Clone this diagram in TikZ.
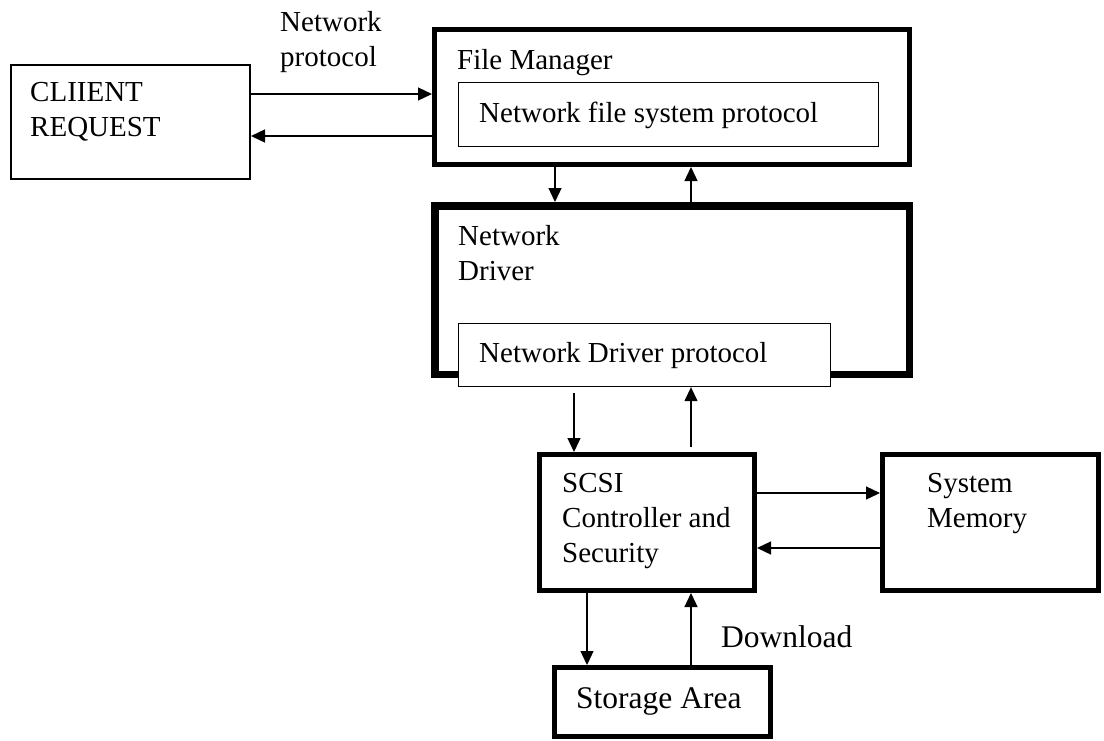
\documentclass[tikz,border=0pt]{standalone}
\usepackage{fontspec}
\setmainfont{Liberation Serif}
\usetikzlibrary{arrows.meta}
\begin{document}
\begin{tikzpicture}[x=1pt,y=-1pt,
  box/.style={draw, rectangle, inner sep=0pt, fill=white},
  thinbox/.style={box, line width=2pt},
  innerbox/.style={box, line width=1.3pt},
  heavybox/.style={box, line width=5pt},
  heaviestbox/.style={box, line width=7.5pt},
  % multi-line labels are placed by the baseline of their last line
  lbl/.style={anchor=base west, inner sep=0pt, align=left,
    font=\fontsize{29}{35}\selectfont},
  biglbl/.style={lbl, font=\fontsize{31.5}{35}\selectfont},
  link/.style={line width=1.3pt, -{Triangle[length=14pt,width=13pt]}},
]
\useasboundingbox (0,0) rectangle (1104,740);

% boxes
\node[thinbox, minimum width=239pt, minimum height=114pt] (client) at (130.5,122) {};
\node[heavybox, minimum width=475pt, minimum height=135pt] (fm) at (672,97) {};
\node[innerbox, minimum width=420pt, minimum height=64pt] (nfs) at (668.5,114.5) {};
\node[heaviestbox, minimum width=474.5pt, minimum height=168.5pt] (nd) at (672,290) {};
\node[innerbox, minimum width=372pt, minimum height=63pt] (ndp) at (644.5,355) {};
\node[heavybox, minimum width=215pt, minimum height=136pt] (scsi) at (647,522.5) {};
\node[heavybox, minimum width=216pt, minimum height=136pt] (mem) at (990.5,522.5) {};
\node[heavybox, minimum width=216pt, minimum height=69pt] (store) at (662.5,702) {};

% labels
\node[lbl] (tnp) at (280,66.7) {Network\\protocol};
\node[lbl] (tclient) at (30,136.7) {CLIIENT\\REQUEST};
\node[lbl] (tfm) at (457,69) {File Manager};
\node[lbl] (tnfs) at (479,122) {Network file system protocol};
\node[lbl] (tnd) at (458,280) {Network\\Driver};
\node[lbl] (tndp) at (479,362) {Network Driver protocol};
\node[lbl] (tscsi) at (562,562) {SCSI\\Controller and\\Security};
\node[lbl] (tmem) at (927,527) {System\\Memory};
\node[biglbl] (tstore) at (576,708) {Storage Area};
\node[biglbl] (tdl) at (721,647) {Download};

% connector positions
\coordinate (ya) at (0,94);
\coordinate (yb) at (0,136);
\coordinate (xa) at (555,0);
\coordinate (xb) at (691,0);
\coordinate (sa) at (574,393);
\coordinate (sb) at (691,447);
\coordinate (yc) at (0,493);
\coordinate (yd) at (0,548);
\coordinate (xc) at (587,0);

% connectors
\draw[link] (client.east |- ya) -- (fm.west |- ya);
\draw[link] (fm.west |- yb) -- (client.east |- yb);
\draw[link] (xa |- fm.south) -- (xa |- nd.north);
\draw[link] (xb |- nd.north) -- (xb |- fm.south);
\draw[link] (sa) -- (sa |- scsi.north);
\draw[link] (sb) -- (sb |- ndp.south);
\draw[link] (scsi.east |- yc) -- (mem.west |- yc);
\draw[link] (mem.west |- yd) -- (scsi.east |- yd);
\draw[link] (xc |- scsi.south) -- (xc |- store.north);
\draw[link] (xb |- store.north) -- (xb |- scsi.south);
\end{tikzpicture}
\end{document}
